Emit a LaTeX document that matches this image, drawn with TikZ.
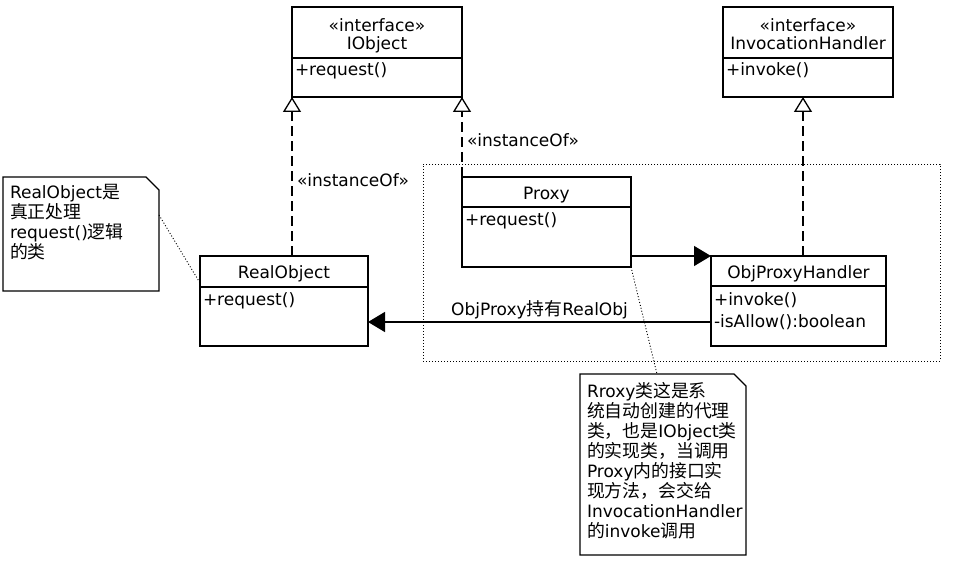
\documentclass[tikz,border=0pt]{standalone}
\usepackage{fontspec}
\setmainfont{DejaVu Sans}
\newfontfamily\cjkfont[Scale=1.05]{Noto Sans CJK SC}
\newcommand\zh[1]{{\cjkfont #1}}
\usetikzlibrary{arrows.meta,calc}
\begin{document}
\begin{tikzpicture}[x=1pt,y=-1pt,
  every node/.style={font=\fontsize{17}{20}\selectfont, inner sep=0pt, outer sep=0pt},
  cls/.style={draw, line width=1.3pt, anchor=north west},
  ttl/.style={anchor=base},
  mtd/.style={anchor=base west},
  sep/.style={line width=1.3pt},
  impl/.style={line width=1.3pt, dash pattern=on 10pt off 5pt,
    -{Triangle[open, length=15pt, width=18pt, line width=1.3pt]}},
  assoc/.style={line width=1.3pt, -{Triangle[length=17pt, width=20pt]}},
  dotline/.style={line width=0.9pt, dash pattern=on 1pt off 2pt},
  notebox/.style={line width=1.3pt},
  notetxt/.style={anchor=north west, align=left}
]
\useasboundingbox[fill=white] (0,0) rectangle (956,561);

% dotted group
\node[draw, dotline, anchor=north west, minimum width=517pt, minimum height=197pt] (grp) at (423,164) {};

% IObject
\node[cls, minimum width=170pt, minimum height=90pt] (iobj) at (292,7) {};
\draw[sep] (292,58) -- (462,58);
\node[ttl] (iobjst) at (377,32) {«interface»};
\node[ttl] (iobjnm) at (377,50) {IObject};
\node[mtd] (iobjm) at (295,76) {+request()};

% InvocationHandler
\node[cls, minimum width=170pt, minimum height=90pt] (ihand) at (723,7) {};
\draw[sep] (723,58) -- (893,58);
\node[ttl] (ihandst) at (808,32) {«interface»};
\node[ttl] (ihandnm) at (808,50) {InvocationHandler};
\node[mtd] (ihandm) at (726,76) {+invoke()};

% RealObject
\node[cls, minimum width=168pt, minimum height=90pt] (realobj) at (200,256) {};
\draw[sep] (200,287) -- (368,287);
\node[ttl] (realnm) at (284,279) {RealObject};
\node[mtd] (realm) at (203,306) {+request()};

% Proxy
\node[cls, minimum width=169pt, minimum height=90pt] (proxy) at (462,177) {};
\draw[sep] (462,207) -- (631,207);
\node[ttl] (proxynm) at (546.5,200) {Proxy};
\node[mtd] (proxym) at (465,226) {+request()};

% ObjProxyHandler
\node[cls, minimum width=175pt, minimum height=90pt] (handler) at (711,256) {};
\draw[sep] (711,286) -- (886,286);
\node[ttl] (handlernm) at (798.5,279) {ObjProxyHandler};
\node[mtd] (handlerm1) at (714,306) {+invoke()};
\node[mtd] (handlerm2) at (714,327) {-isAllow():boolean};

% realization connectors
\draw[impl] (realobj.north -| iobj.south west) -- (iobj.south west);
\node[anchor=base west] (lbl1) at (297,187) {«instanceOf»};
\draw[impl] (proxy.north west) -- (iobj.south east);
\node[anchor=base west] (lbl2) at (467,147) {«instanceOf»};
\coordinate (ihx) at (803,0);
\draw[impl] (handler.north -| ihx) -- (ihand.south -| ihx);

% associations
\draw[assoc] (proxy.east |- handler.north) -- (handler.north west);
\coordinate (ay) at (0,322);
\draw[assoc] (handler.west |- ay) -- node[above=3pt] (lbl3) {ObjProxy\zh{持有}RealObj} (realobj.east |- ay);

% note 1
\node[anchor=north west, minimum width=156pt, minimum height=114pt] (n1) at (3,177) {};
\draw[notebox] (n1.north west) -- ($(n1.north east)+(-13,0)$) -- ($(n1.north east)+(0,13)$) -- (n1.south east) -- (n1.south west) -- cycle;
\node[notetxt] (n1t) at (10,184) {RealObject\zh{是}\\\zh{真正处理}\\request()\zh{逻辑}\\\zh{的类}};
\draw[dotline] ($(n1.north east)+(0,38)$) -- ($(realobj.north west)+(0,27)$);

% note 2
\node[anchor=north west, minimum width=166pt, minimum height=181pt] (n2) at (580,374) {};
\draw[notebox] (n2.north west) -- ($(n2.north east)+(-12,0)$) -- ($(n2.north east)+(0,12)$) -- (n2.south east) -- (n2.south west) -- cycle;
\node[notetxt] (n2t) at (587,382) {Rroxy\zh{类这是系}\\\zh{统自动创建的代理}\\\zh{类，也是}IObject\zh{类}\\\zh{的实现类，当调用}\\Proxy\zh{内的接口实}\\\zh{现方法，会交给}\\InvocationHandler\\\zh{的}invoke\zh{调用}};
\draw[dotline] (proxy.south east) -- ($(n2.north west)+(77,0)$);
\end{tikzpicture}
\end{document}
